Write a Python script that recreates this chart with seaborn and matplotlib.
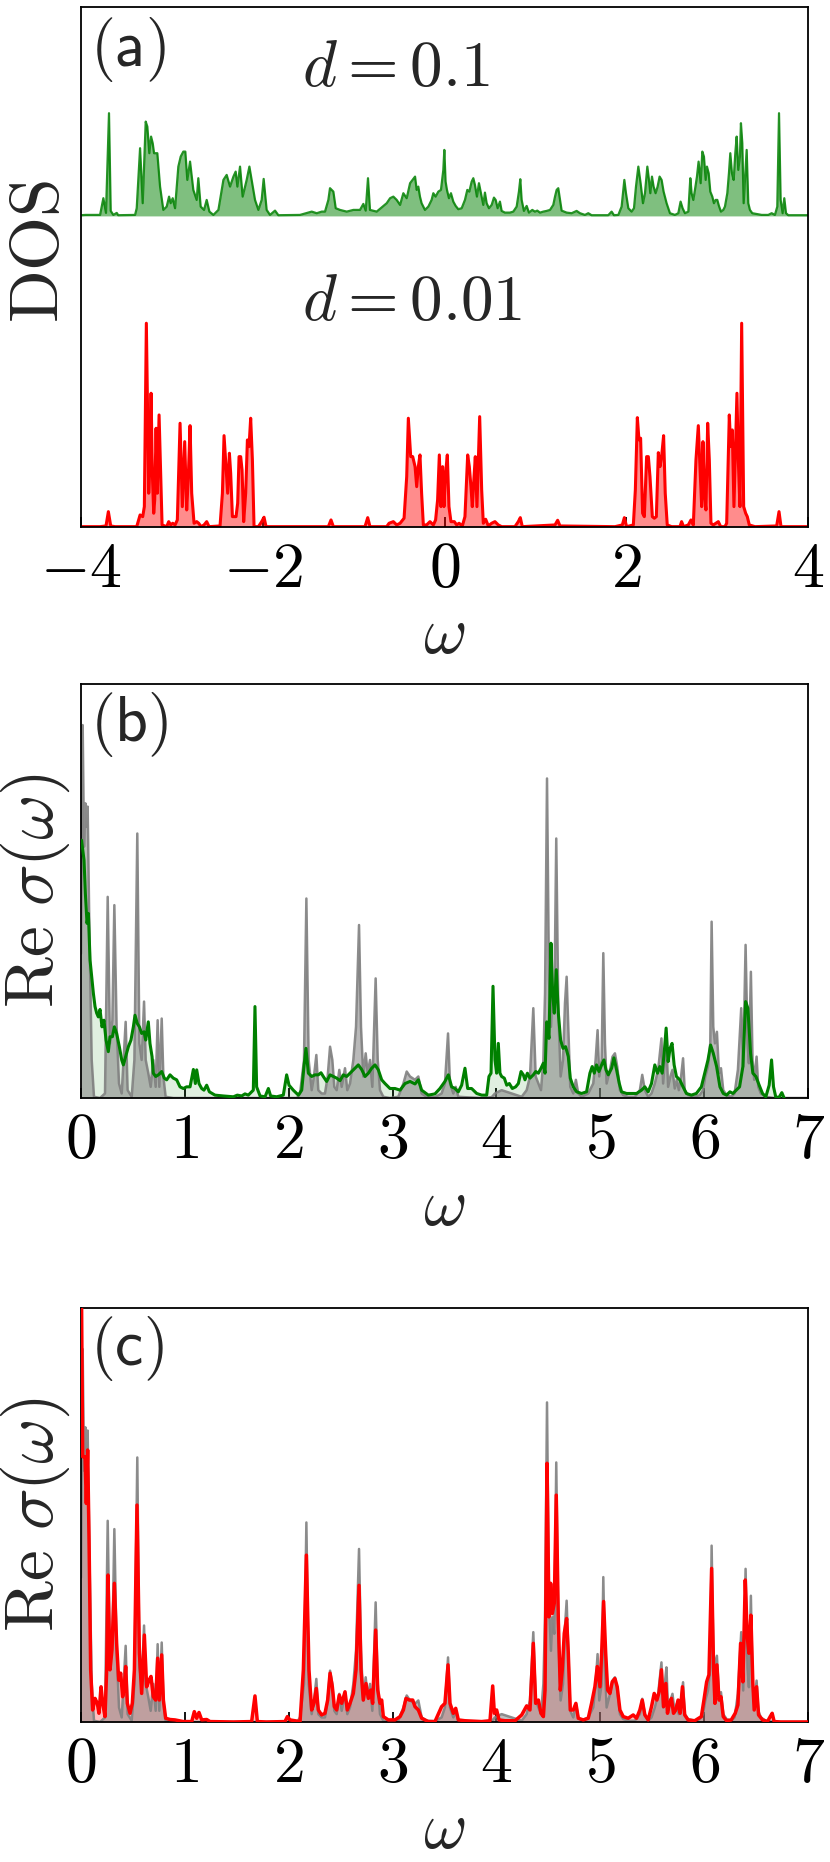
import numpy as np
import matplotlib
matplotlib.use('Agg')
import matplotlib.pyplot as plt
import seaborn as sns

# (omega, value) pairs
# panel (a): density of states, d = 0.1 (green, drawn shifted up) and d = 0.01 (red)
dos_d01 = [(-4.0, 0.007), (-3.95, 0.01), (-3.79, 0.01), (-3.754, 0.177), (-3.725, 0.03), (-3.692, 1.027),
           (-3.673, 0.05), (-3.644, 0.01), (-3.607, 0.03), (-3.59, 0.007), (-3.405, 0.01), (-3.387, 0.077),
           (-3.35, 0.677), (-3.321, 0.127), (-3.288, 0.943), (-3.27, 0.893), (-3.248, 0.627), (-3.229, 0.793),
           (-3.211, 0.727), (-3.196, 0.627), (-3.16, 0.627), (-3.13, 0.293), (-3.094, 0.06), (-3.057, 0.093),
           (-3.031, 0.193), (-3.013, 0.127), (-2.991, 0.177), (-2.965, 0.077), (-2.929, 0.493), (-2.903, 0.593),
           (-2.874, 0.643), (-2.852, 0.643), (-2.83, 0.36), (-2.8, 0.543), (-2.764, 0.26), (-2.727, 0.16),
           (-2.709, 0.377), (-2.683, 0.093), (-2.646, 0.06), (-2.617, 0.16), (-2.587, 0.043), (-2.543, 0.01),
           (-2.488, 0.06), (-2.433, 0.36), (-2.397, 0.41), (-2.36, 0.293), (-2.323, 0.393), (-2.298, 0.443),
           (-2.279, 0.293), (-2.25, 0.493), (-2.221, 0.193), (-2.177, 0.36), (-2.147, 0.493), (-2.122, 0.36),
           (-2.085, 0.16), (-2.048, 0.06), (-2.012, 0.16), (-1.99, 0.37), (-1.957, 0.06), (-1.92, 0.01),
           (-1.865, 0.053), (-1.828, 0.007), (-1.59, 0.01), (-1.461, 0.043), (-1.406, 0.027), (-1.351, 0.043),
           (-1.315, 0.043), (-1.278, 0.16), (-1.26, 0.277), (-1.223, 0.243), (-1.197, 0.077), (-1.15, 0.06),
           (-1.076, 0.043), (-1.003, 0.06), (-0.93, 0.06), (-0.893, 0.12), (-0.867, 0.053), (-0.842, 0.377),
           (-0.82, 0.06), (-0.746, 0.043), (-0.636, 0.127), (-0.599, 0.177), (-0.563, 0.193), (-0.526, 0.16),
           (-0.489, 0.11), (-0.453, 0.227), (-0.416, 0.177), (-0.379, 0.327), (-0.324, 0.393), (-0.306, 0.26),
           (-0.288, 0.293), (-0.27, 0.193), (-0.252, 0.127), (-0.215, 0.06), (-0.178, 0.093), (-0.142, 0.16),
           (-0.123, 0.227), (-0.098, 0.193), (-0.068, 0.243), (-0.039, 0.26), (-0.013, 0.46), (-0.002, 0.66),
           (0.012, 0.343), (0.027, 0.26), (0.049, 0.177), (0.071, 0.227), (0.097, 0.143), (0.123, 0.1),
           (0.152, 0.067), (0.189, 0.077), (0.225, 0.16), (0.251, 0.26), (0.273, 0.243), (0.299, 0.343),
           (0.317, 0.377), (0.335, 0.31), (0.357, 0.193), (0.379, 0.327), (0.401, 0.227), (0.427, 0.11),
           (0.445, 0.233), (0.464, 0.127), (0.489, 0.077), (0.519, 0.11), (0.544, 0.183), (0.563, 0.16),
           (0.585, 0.077), (0.61, 0.143), (0.629, 0.05), (0.665, 0.033), (0.72, 0.033), (0.757, 0.043),
           (0.794, 0.093), (0.819, 0.243), (0.834, 0.367), (0.849, 0.16), (0.874, 0.05), (0.904, 0.1),
           (0.929, 0.033), (0.966, 0.06), (0.995, 0.043), (1.021, 0.053), (1.051, 0.033), (1.087, 0.043),
           (1.124, 0.05), (1.161, 0.06), (1.197, 0.11), (1.216, 0.193), (1.234, 0.26), (1.252, 0.277),
           (1.271, 0.16), (1.289, 0.053), (1.344, 0.033), (1.399, 0.027), (1.454, 0.05), (1.491, 0.027),
           (1.546, 0.01), (1.582, 0.027), (1.619, 0.007), (1.802, 0.007), (1.839, 0.043), (1.865, 0.007),
           (1.913, 0.01), (1.949, 0.093), (1.979, 0.36), (1.997, 0.227), (2.023, 0.077), (2.059, 0.043),
           (2.085, 0.077), (2.107, 0.293), (2.133, 0.493), (2.158, 0.327), (2.184, 0.127), (2.206, 0.227),
           (2.232, 0.493), (2.25, 0.36), (2.265, 0.227), (2.283, 0.393), (2.301, 0.293), (2.323, 0.227),
           (2.345, 0.293), (2.367, 0.393), (2.389, 0.36), (2.411, 0.243), (2.444, 0.127), (2.481, 0.027),
           (2.536, 0.01), (2.573, 0.027), (2.598, 0.143), (2.62, 0.077), (2.646, 0.027), (2.683, 0.043),
           (2.705, 0.377), (2.719, 0.227), (2.738, 0.16), (2.756, 0.26), (2.778, 0.393), (2.796, 0.543),
           (2.819, 0.327), (2.837, 0.643), (2.855, 0.593), (2.874, 0.36), (2.888, 0.493), (2.907, 0.427),
           (2.925, 0.243), (2.947, 0.193), (2.965, 0.127), (2.984, 0.16), (3.002, 0.16), (3.02, 0.1),
           (3.042, 0.043), (3.068, 0.06), (3.086, 0.093), (3.112, 0.227), (3.13, 0.427), (3.145, 0.627),
           (3.163, 0.427), (3.182, 0.36), (3.2, 0.627), (3.215, 0.793), (3.233, 0.46), (3.251, 0.593),
           (3.262, 0.927), (3.277, 0.727), (3.292, 0.127), (3.306, 0.36), (3.325, 0.66), (3.343, 0.127),
           (3.361, 0.06), (3.387, 0.027), (3.49, 0.01), (3.563, 0.01), (3.6, 0.027), (3.636, 0.01),
           (3.662, 0.093), (3.681, 1.027), (3.699, 0.16), (3.721, 0.027), (3.739, 0.177), (3.758, 0.027),
           (3.783, 0.007), (4.0, 0.007)]

dos_d001 = [(-4.0, 0.003), (-3.791, 0.003), (-3.725, 0.01), (-3.699, 0.153), (-3.673, 0.01), (-3.626, 0.003),
            (-3.387, 0.003), (-3.35, 0.12), (-3.321, 0.103), (-3.303, 0.203), (-3.281, 2.037), (-3.255, 0.337),
            (-3.24, 0.67), (-3.229, 1.337), (-3.215, 0.537), (-3.2, 0.137), (-3.189, 0.27), (-3.174, 0.987),
            (-3.16, 0.337), (-3.141, 1.12), (-3.127, 0.67), (-3.108, 0.02), (-3.057, 0.003), (-3.035, 0.053),
            (-3.013, 0.02), (-2.991, 0.037), (-2.965, 0.02), (-2.94, 0.07), (-2.91, 1.037), (-2.885, 0.203),
            (-2.859, 0.853), (-2.837, 0.17), (-2.819, 0.503), (-2.8, 1.013), (-2.782, 0.337), (-2.756, 0.037),
            (-2.727, 0.053), (-2.705, 0.037), (-2.679, 0.003), (-2.646, 0.02), (-2.617, 0.053), (-2.591, 0.003),
            (-2.47, 0.01), (-2.444, 0.337), (-2.426, 0.913), (-2.404, 0.603), (-2.386, 0.337), (-2.367, 0.737),
            (-2.353, 0.537), (-2.334, 0.103), (-2.316, 0.103), (-2.294, 0.103), (-2.276, 0.237), (-2.261, 0.703),
            (-2.243, 0.703), (-2.228, 0.57), (-2.21, 0.053), (-2.188, 0.337), (-2.169, 0.87), (-2.151, 0.803),
            (-2.133, 1.087), (-2.114, 0.67), (-2.096, 0.003), (-2.048, 0.003), (-2.012, 0.053), (-1.986, 0.097),
            (-1.964, 0.003), (-1.278, 0.003), (-1.249, 0.07), (-1.223, 0.003), (-0.875, 0.003), (-0.845, 0.093),
            (-0.82, 0.003), (-0.636, 0.003), (-0.61, 0.037), (-0.563, 0.053), (-0.526, 0.02), (-0.489, 0.037),
            (-0.445, 0.087), (-0.416, 0.503), (-0.398, 1.087), (-0.372, 0.703), (-0.35, 0.703), (-0.324, 0.603),
            (-0.306, 0.403), (-0.288, 0.603), (-0.27, 0.72), (-0.252, 0.337), (-0.233, 0.02), (-0.197, 0.02),
            (-0.16, 0.053), (-0.123, 0.02), (-0.098, 0.07), (-0.076, 0.27), (-0.057, 0.72), (-0.039, 0.203),
            (-0.021, 0.603), (-0.006, 0.203), (0.012, 0.537), (0.031, 0.72), (0.049, 0.203), (0.071, 0.053),
            (0.108, 0.053), (0.134, 0.02), (0.16, 0.037), (0.196, 0.01), (0.225, 0.103), (0.255, 0.72),
            (0.273, 0.603), (0.291, 0.403), (0.306, 0.203), (0.325, 0.503), (0.339, 0.703), (0.357, 0.203),
            (0.372, 0.67), (0.387, 1.103), (0.409, 0.37), (0.427, 0.037), (0.453, 0.077), (0.482, 0.01),
            (0.519, 0.037), (0.555, 0.053), (0.592, 0.02), (0.629, 0.003), (0.775, 0.003), (0.812, 0.053),
            (0.834, 0.093), (0.856, 0.003), (1.216, 0.02), (1.245, 0.067), (1.271, 0.01), (1.876, 0.003),
            (1.957, 0.02), (1.979, 0.093), (2.004, 0.003), (2.078, 0.02), (2.1, 0.37), (2.122, 1.093),
            (2.14, 0.87), (2.158, 0.887), (2.18, 0.137), (2.199, 0.103), (2.224, 0.703), (2.243, 0.703),
            (2.261, 0.503), (2.287, 0.103), (2.309, 0.087), (2.331, 0.103), (2.353, 0.743), (2.371, 0.603),
            (2.389, 0.703), (2.411, 0.913), (2.429, 0.337), (2.451, 0.02), (2.499, 0.003), (2.591, 0.003),
            (2.609, 0.053), (2.631, 0.003), (2.683, 0.02), (2.712, 0.07), (2.738, 0.02), (2.767, 0.67),
            (2.793, 1.013), (2.811, 0.603), (2.83, 0.203), (2.844, 0.853), (2.859, 0.337), (2.877, 0.17),
            (2.896, 1.037), (2.914, 0.67), (2.932, 0.037), (2.958, 0.02), (2.987, 0.037), (3.013, 0.053),
            (3.039, 0.003), (3.086, 0.003), (3.105, 0.037), (3.134, 1.12), (3.149, 0.803), (3.167, 0.97),
            (3.185, 0.203), (3.204, 0.87), (3.218, 1.337), (3.233, 0.67), (3.251, 0.203), (3.27, 2.037),
            (3.292, 0.203), (3.314, 0.137), (3.332, 0.103), (3.354, 0.02), (3.416, 0.003), (3.655, 0.01),
            (3.681, 0.153), (3.703, 0.003), (4.0, 0.003)]

# panels (b) and (c): Re sigma(omega); gray = reference curve shown in both panels
sigma_ref = [(0.0, 34.9), (0.016, 90.1), (0.029, 60.7), (0.042, 71.2), (0.051, 65.5), (0.064, 70.4),
             (0.08, 41.8), (0.103, 9.2), (0.125, 0.3), (0.183, 0.0), (0.231, 1.1), (0.257, 48.6),
             (0.279, 13.2), (0.302, 18.8), (0.321, 46.6), (0.343, 17.2), (0.366, 3.5), (0.392, 1.1),
             (0.43, 18.4), (0.449, 1.9), (0.488, 0.3), (0.514, 9.2), (0.542, 63.9), (0.562, 13.2),
             (0.584, 9.2), (0.607, 23.3), (0.623, 9.2), (0.648, 6.0), (0.671, 2.7), (0.696, 9.2),
             (0.719, 2.7), (0.738, 18.8), (0.754, 2.7), (0.777, 19.2), (0.793, 5.2), (0.815, 0.3),
             (0.889, 0.0), (2.08, 0.0), (2.109, 1.1), (2.147, 9.2), (2.17, 48.2), (2.192, 9.2),
             (2.221, 1.9), (2.243, 5.2), (2.266, 10.4), (2.285, 1.9), (2.317, 1.1), (2.349, 1.1),
             (2.375, 5.2), (2.398, 12.4), (2.42, 9.2), (2.439, 2.7), (2.462, 1.9), (2.487, 6.8),
             (2.51, 2.7), (2.542, 7.2), (2.564, 1.9), (2.59, 3.5), (2.622, 9.2), (2.648, 17.2),
             (2.677, 41.8), (2.696, 17.2), (2.718, 5.2), (2.741, 10.8), (2.76, 6.0), (2.783, 9.2),
             (2.805, 2.7), (2.837, 28.9), (2.857, 9.2), (2.879, 1.9), (2.911, 0.3), (2.975, 0.0),
             (3.055, 0.3), (3.104, 3.5), (3.136, 6.4), (3.168, 5.2), (3.216, 4.4), (3.248, 5.2),
             (3.28, 1.1), (3.328, 0.3), (3.408, 0.2), (3.472, 1.1), (3.504, 3.5), (3.534, 15.6),
             (3.553, 3.5), (3.585, 1.1), (3.608, 2.7), (3.633, 0.3), (3.697, 0.2), (3.858, 0.0),
             (3.954, 0.2), (3.986, 1.1), (4.05, 1.9), (4.147, 1.1), (4.243, 0.3), (4.291, 1.9),
             (4.323, 5.2), (4.355, 21.7), (4.378, 5.2), (4.404, 3.5), (4.429, 1.9), (4.452, 9.2),
             (4.468, 25.3), (4.487, 77.2), (4.506, 28.5), (4.525, 17.2), (4.538, 25.3), (4.557, 21.3),
             (4.576, 62.7), (4.596, 21.3), (4.618, 5.2), (4.641, 9.2), (4.66, 22.9), (4.676, 29.3),
             (4.692, 17.2), (4.711, 2.7), (4.74, 1.1), (4.765, 4.4), (4.788, 1.1), (4.82, 0.3),
             (4.884, 1.1), (4.932, 3.5), (4.955, 9.2), (4.974, 16.4), (4.99, 5.2), (5.013, 9.2),
             (5.029, 35.0), (5.045, 13.2), (5.061, 3.5), (5.093, 6.8), (5.118, 10.0), (5.141, 10.8),
             (5.163, 7.6), (5.189, 1.9), (5.221, 0.7), (5.269, 0.3), (5.333, 0.3), (5.381, 1.9),
             (5.404, 5.6), (5.429, 1.9), (5.461, 0.3), (5.493, 1.1), (5.525, 3.5), (5.557, 6.8),
             (5.589, 14.4), (5.605, 3.5), (5.621, 9.2), (5.637, 13.2), (5.653, 2.7), (5.675, 5.2),
             (5.695, 6.8), (5.717, 2.3), (5.737, 4.4), (5.756, 1.9), (5.778, 5.2), (5.797, 9.6),
             (5.813, 1.9), (5.845, 0.7), (5.909, 0.3), (5.957, 0.7), (5.989, 1.9), (6.011, 5.2),
             (6.037, 7.6), (6.059, 13.2), (6.072, 42.6), (6.088, 17.2), (6.104, 13.2), (6.123, 16.0),
             (6.143, 6.0), (6.162, 7.2), (6.184, 1.9), (6.216, 0.7), (6.261, 0.3), (6.293, 1.1),
             (6.325, 6.8), (6.357, 21.7), (6.376, 7.6), (6.399, 37.0), (6.418, 13.2), (6.431, 8.4),
             (6.45, 30.5), (6.466, 9.2), (6.482, 4.4), (6.505, 10.0), (6.521, 2.7), (6.546, 1.1),
             (6.594, 0.3), (6.674, 0.0), (7.0, 0.0)]

sigma_d01 = [(0.005, 62.3), (0.029, 57.5), (0.042, 49.4), (0.058, 42.2), (0.071, 44.6), (0.087, 33.3),
             (0.103, 29.3), (0.119, 25.3), (0.135, 22.1), (0.151, 20.5), (0.167, 19.6), (0.183, 21.4),
             (0.202, 17.2), (0.221, 18.8), (0.241, 14.0), (0.263, 11.2), (0.279, 14.8), (0.302, 14.8),
             (0.321, 17.2), (0.343, 15.6), (0.369, 12.4), (0.392, 9.2), (0.408, 8.0), (0.43, 10.0),
             (0.456, 12.4), (0.481, 14.0), (0.504, 17.2), (0.52, 20.0), (0.542, 18.0), (0.562, 17.2),
             (0.584, 15.6), (0.607, 16.0), (0.623, 14.0), (0.648, 18.4), (0.664, 13.2), (0.684, 10.0),
             (0.696, 6.0), (0.719, 5.2), (0.745, 5.6), (0.777, 6.4), (0.802, 4.8), (0.825, 4.4),
             (0.857, 5.6), (0.889, 4.8), (0.921, 4.4), (0.953, 2.7), (0.985, 2.3), (1.017, 2.7),
             (1.05, 2.7), (1.082, 6.9), (1.101, 3.5), (1.114, 6.8), (1.136, 3.5), (1.162, 2.3),
             (1.184, 1.9), (1.21, 3.1), (1.236, 1.5), (1.29, 0.7), (1.37, 0.5), (1.467, 0.3),
             (1.505, 0.7), (1.547, 0.5), (1.579, 1.0), (1.611, 0.7), (1.659, 1.9), (1.675, 22.1),
             (1.691, 2.7), (1.724, 0.5), (1.772, 0.3), (1.804, 2.3), (1.826, 0.5), (1.884, 0.3),
             (1.948, 0.7), (1.98, 5.6), (2.003, 3.1), (2.044, 1.9), (2.093, 0.7), (2.125, 1.9),
             (2.147, 7.6), (2.166, 12.0), (2.189, 6.0), (2.221, 5.2), (2.253, 5.6), (2.285, 5.6),
             (2.311, 6.1), (2.333, 5.2), (2.365, 4.0), (2.398, 5.6), (2.43, 5.2), (2.462, 4.8),
             (2.494, 4.2), (2.526, 5.6), (2.558, 5.2), (2.59, 6.0), (2.638, 7.2), (2.67, 8.0),
             (2.702, 6.9), (2.735, 5.2), (2.767, 6.0), (2.799, 7.2), (2.831, 8.0), (2.863, 6.8),
             (2.895, 4.4), (2.927, 3.5), (2.975, 2.3), (3.023, 2.3), (3.072, 1.9), (3.12, 3.5),
             (3.168, 4.0), (3.216, 3.4), (3.248, 4.4), (3.28, 1.9), (3.344, 0.7), (3.408, 1.0),
             (3.456, 2.3), (3.504, 4.0), (3.537, 5.6), (3.569, 2.7), (3.601, 2.3), (3.633, 1.5),
             (3.665, 3.1), (3.697, 7.2), (3.723, 2.3), (3.761, 2.3), (3.81, 1.1), (3.858, 0.7),
             (3.906, 0.7), (3.928, 5.2), (3.948, 6.0), (3.967, 27.0), (3.986, 9.2), (4.002, 6.0),
             (4.018, 13.2), (4.034, 6.0), (4.05, 5.2), (4.076, 4.8), (4.099, 3.1), (4.124, 3.5),
             (4.153, 2.3), (4.185, 2.7), (4.211, 3.5), (4.237, 6.4), (4.259, 5.6), (4.275, 4.4),
             (4.298, 6.0), (4.323, 4.8), (4.355, 5.6), (4.378, 6.4), (4.404, 6.0), (4.429, 7.2),
             (4.452, 8.4), (4.468, 6.0), (4.484, 18.4), (4.506, 14.4), (4.525, 37.4), (4.541, 25.3),
             (4.557, 20.5), (4.576, 31.0), (4.596, 20.5), (4.618, 14.0), (4.641, 12.0), (4.666, 12.4),
             (4.692, 10.0), (4.711, 4.8), (4.74, 2.7), (4.772, 1.5), (4.82, 1.1), (4.868, 1.5),
             (4.9, 6.0), (4.922, 7.6), (4.942, 6.0), (4.964, 8.0), (4.987, 6.4), (5.013, 8.0),
             (5.035, 9.2), (5.055, 6.8), (5.077, 5.6), (5.109, 7.2), (5.131, 9.7), (5.157, 6.8),
             (5.183, 3.5), (5.205, 1.5), (5.253, 1.1), (5.301, 1.1), (5.349, 1.1), (5.397, 1.9),
             (5.429, 2.7), (5.461, 1.5), (5.493, 3.5), (5.525, 8.0), (5.551, 6.0), (5.573, 7.6),
             (5.596, 6.0), (5.615, 10.8), (5.634, 16.9), (5.653, 8.8), (5.672, 12.0), (5.691, 13.2),
             (5.711, 8.0), (5.733, 5.2), (5.765, 4.4), (5.797, 2.7), (5.829, 1.1), (5.877, 0.7),
             (5.925, 1.1), (5.973, 2.7), (6.005, 6.0), (6.037, 9.2), (6.062, 12.8), (6.088, 10.8),
             (6.12, 7.6), (6.152, 2.7), (6.184, 1.1), (6.216, 0.7), (6.248, 1.5), (6.277, 1.1),
             (6.309, 1.9), (6.341, 2.7), (6.373, 7.6), (6.399, 23.3), (6.421, 21.7), (6.447, 10.8),
             (6.469, 6.0), (6.498, 5.2), (6.53, 3.1), (6.562, 1.1), (6.594, 0.3), (6.626, 3.1),
             (6.649, 9.2), (6.668, 2.7), (6.69, 0.2), (6.722, 0.2), (6.748, 1.3), (6.77, 0.0)]

sigma_d001 = [(0.0, 120.0), (0.016, 64.1), (0.039, 64.1), (0.051, 52.8), (0.064, 65.7), (0.077, 44.8),
              (0.093, 12.6), (0.112, 2.9), (0.135, 5.7), (0.157, 4.5), (0.173, 2.1), (0.193, 8.5),
              (0.209, 4.5), (0.231, 1.3), (0.247, 12.6), (0.26, 35.5), (0.279, 12.6), (0.298, 17.4),
              (0.321, 33.5), (0.343, 19.0), (0.363, 10.1), (0.382, 11.8), (0.401, 6.1), (0.417, 8.5),
              (0.43, 13.4), (0.446, 4.5), (0.472, 2.1), (0.494, 4.5), (0.514, 12.6), (0.539, 52.4),
              (0.562, 16.6), (0.584, 6.9), (0.61, 21.0), (0.632, 8.5), (0.655, 10.1), (0.674, 11.0),
              (0.696, 6.1), (0.719, 5.3), (0.738, 15.4), (0.754, 5.3), (0.777, 16.2), (0.793, 5.3),
              (0.815, 0.9), (0.857, 0.6), (0.905, 0.5), (0.985, 0.1), (1.066, 0.1), (1.091, 2.5),
              (1.114, 0.9), (1.136, 2.3), (1.162, 0.5), (1.21, 0.6), (1.242, 0.1), (1.467, 0.0),
              (1.643, 0.1), (1.675, 6.3), (1.698, 0.1), (1.785, 0.0), (1.964, 0.1), (1.987, 1.3),
              (2.012, 0.5), (2.109, 0.1), (2.141, 12.6), (2.17, 40.3), (2.195, 12.6), (2.221, 2.9),
              (2.243, 4.5), (2.266, 8.1), (2.285, 2.9), (2.317, 1.7), (2.349, 2.1), (2.375, 5.3),
              (2.398, 11.8), (2.42, 8.5), (2.439, 3.7), (2.462, 2.9), (2.487, 6.5), (2.51, 4.5),
              (2.542, 7.3), (2.564, 2.9), (2.59, 4.5), (2.622, 6.9), (2.648, 12.6), (2.677, 33.0),
              (2.696, 12.6), (2.718, 5.3), (2.744, 9.3), (2.767, 5.7), (2.789, 7.7), (2.808, 4.5),
              (2.837, 22.2), (2.857, 7.7), (2.879, 4.5), (2.895, 5.3), (2.911, 1.3), (2.959, 0.5),
              (3.023, 0.5), (3.072, 1.3), (3.104, 2.9), (3.129, 5.7), (3.161, 5.3), (3.194, 5.3),
              (3.216, 3.7), (3.248, 2.9), (3.28, 0.9), (3.344, 0.1), (3.408, 0.1), (3.472, 3.7),
              (3.504, 4.5), (3.534, 13.8), (3.553, 4.5), (3.585, 2.1), (3.608, 3.3), (3.633, 0.5),
              (3.697, 0.3), (3.858, 0.1), (3.938, 0.3), (3.964, 8.7), (3.98, 2.1), (4.002, 2.9),
              (4.025, 0.5), (4.083, 0.3), (4.179, 0.3), (4.243, 1.7), (4.291, 3.9), (4.323, 2.9),
              (4.355, 19.0), (4.378, 4.5), (4.404, 5.3), (4.429, 2.1), (4.452, 1.3), (4.468, 7.7),
              (4.487, 62.5), (4.506, 25.4), (4.522, 33.5), (4.538, 26.2), (4.557, 28.7), (4.576, 54.8),
              (4.596, 24.6), (4.615, 7.7), (4.634, 12.6), (4.653, 21.4), (4.676, 25.0), (4.692, 16.6),
              (4.711, 2.9), (4.74, 2.9), (4.765, 4.5), (4.788, 0.9), (4.836, 0.5), (4.884, 0.9),
              (4.916, 4.5), (4.948, 8.5), (4.971, 13.4), (4.997, 8.5), (5.013, 16.6), (5.032, 29.1),
              (5.052, 16.6), (5.071, 7.7), (5.093, 6.9), (5.115, 9.7), (5.141, 10.5), (5.163, 8.5),
              (5.189, 2.9), (5.221, 1.3), (5.269, 0.9), (5.317, 1.7), (5.349, 0.9), (5.381, 2.9),
              (5.404, 5.3), (5.429, 1.7), (5.461, 0.5), (5.493, 3.7), (5.519, 6.9), (5.545, 5.3),
              (5.567, 7.3), (5.589, 12.6), (5.609, 3.7), (5.631, 9.3), (5.647, 2.1), (5.666, 4.5),
              (5.685, 5.7), (5.705, 2.1), (5.727, 2.9), (5.749, 5.3), (5.769, 2.1), (5.791, 8.5),
              (5.813, 1.7), (5.845, 0.5), (5.909, 0.3), (5.973, 1.3), (5.998, 5.3), (6.024, 9.7),
              (6.046, 11.4), (6.072, 37.1), (6.091, 12.6), (6.104, 4.5), (6.123, 13.8), (6.143, 5.3),
              (6.162, 6.1), (6.184, 1.3), (6.216, 0.3), (6.261, 0.5), (6.299, 2.1), (6.325, 4.1),
              (6.351, 19.0), (6.373, 9.7), (6.396, 34.3), (6.415, 20.6), (6.431, 16.6), (6.45, 25.8),
              (6.469, 9.3), (6.482, 2.9), (6.505, 8.5), (6.524, 1.7), (6.562, 0.5), (6.61, 0.1),
              (6.636, 1.3), (6.655, 2.1), (6.674, 0.1), (6.738, 0.0), (7.0, 0.0)]

ticks_a = [-4, -2, 0, 2, 4]
ticklabels_a = ['$-4$', '$-2$', '$0$', '$2$', '$4$']
ticks_bc = [0, 1, 2, 3, 4, 5, 6, 7]
ticklabels_bc = ['$%d$' % t for t in ticks_bc]
green_shift = 3.11

sns.set_style('white')
plt.rcParams['mathtext.fontset'] = 'cm'
plt.rcParams['axes.edgecolor'] = 'black'
plt.rcParams['axes.linewidth'] = 1.3


def curve(ax, pts, color, lw, fill_alpha, shift=0.0, z=2, line_alpha=1.0):
    w, v = np.array(pts).T
    ax.fill_between(w, shift, v + shift, color=color, alpha=fill_alpha, lw=0, zorder=z)
    sns.lineplot(x=w, y=v + shift, ax=ax, color=color, lw=lw, alpha=line_alpha,
                 sort=False, estimator=None, zorder=z + 0.5)


def style(ax, ticks, labels, xlim, ylim, tag, ylabel):
    ax.set_xlim(*xlim)
    ax.set_ylim(*ylim)
    ax.set_yticks([])
    ax.set_xticks(ticks)
    ax.set_xticklabels(labels)
    ax.tick_params(axis='x', direction='in', length=7, width=1.3, bottom=True, top=False,
                   labelsize=46, pad=8, colors='black')
    ax.set_xlabel(r'$\omega$', fontsize=48, labelpad=1)
    ax.set_ylabel(ylabel, fontsize=50)
    ax.yaxis.set_label_coords(-0.012, 0.5)
    ax.text(0.013, 0.985, r'$\mathsf{(%s)}$' % tag, transform=ax.transAxes,
            ha='left', va='top', fontsize=46)
    for s in ax.spines.values():
        s.set_color('black')
        s.set_linewidth(1.3)


fig = plt.figure(figsize=(8.3, 18.62), dpi=100)
ax_a = fig.add_axes([0.0976, 0.7170, 0.8759, 0.2793])
ax_b = fig.add_axes([0.0976, 0.4103, 0.8759, 0.2223])
ax_c = fig.add_axes([0.0976, 0.0752, 0.8759, 0.2223])

# (a) DOS
curve(ax_a, dos_d001, 'red', 2.2, 0.45)
curve(ax_a, dos_d01, 'green', 1.6, 0.5, shift=green_shift, line_alpha=0.85)
style(ax_a, ticks_a, ticklabels_a, (-4, 4), (0, 5.2), 'a', r'$\mathrm{DOS}$')
ax_a.yaxis.set_label_coords(-0.012, 0.53)
ax_a.text(0.304, 0.848, r'$d=0.1$', transform=ax_a.transAxes, fontsize=47, va='baseline')
ax_a.text(0.304, 0.398, r'$d=0.01$', transform=ax_a.transAxes, fontsize=47, va='baseline')

# (b) conductivity, d = 0.1
curve(ax_b, sigma_d01, 'green', 2.2, 0.12, z=1)
curve(ax_b, sigma_ref, 'gray', 1.8, 0.55, z=2, line_alpha=0.9)
for ln in ax_b.lines:
    if ln.get_color() == 'green':
        ln.set_zorder(4)
style(ax_b, ticks_bc, ticklabels_bc, (0, 7), (0, 100), 'b', r'$\mathrm{Re}\ \sigma(\omega)$')

# (c) conductivity, d = 0.01
curve(ax_c, sigma_d001, 'red', 2.5, 0.25, z=1)
curve(ax_c, sigma_ref, 'gray', 1.8, 0.5, z=2, line_alpha=0.9)
for ln in ax_c.lines:
    if ln.get_color() == 'red':
        ln.set_zorder(4)
style(ax_c, ticks_bc, ticklabels_bc, (0, 7), (0, 100), 'c', r'$\mathrm{Re}\ \sigma(\omega)$')

fig.savefig('out.png', dpi=100)
